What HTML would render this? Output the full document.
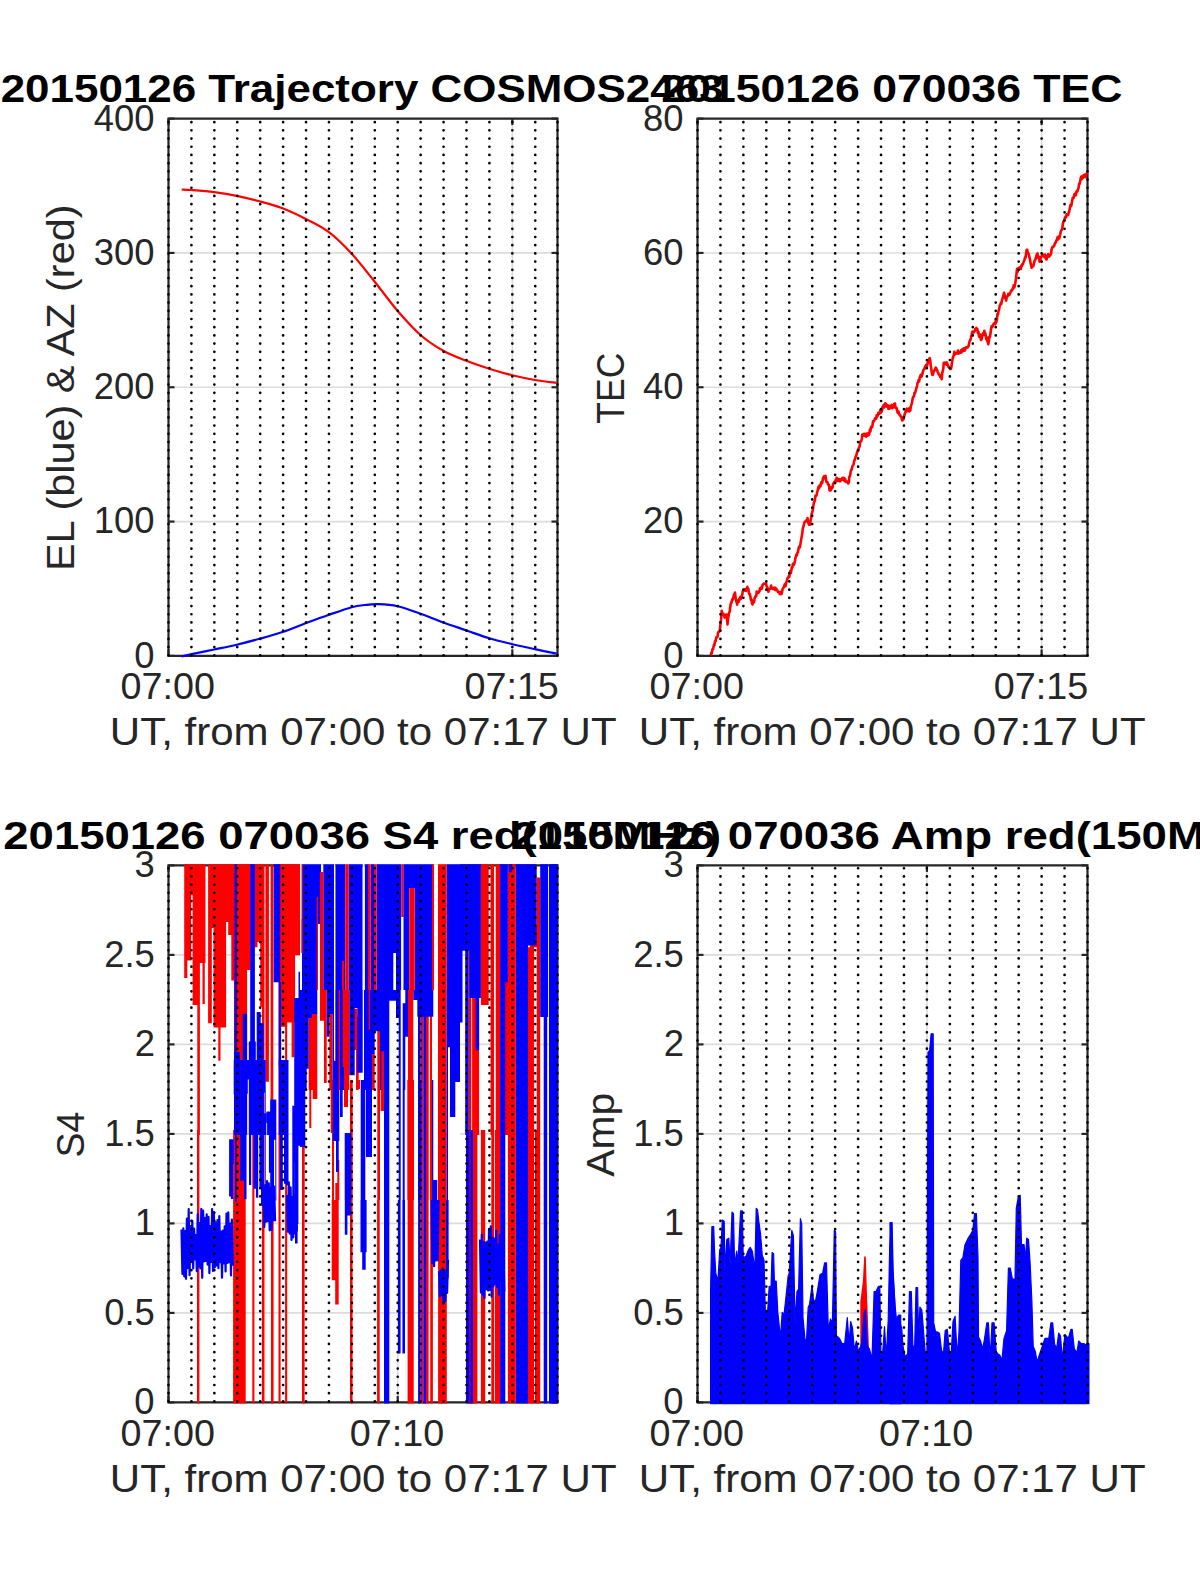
<!DOCTYPE html>
<html><head><meta charset="utf-8"><style>html,body{margin:0;padding:0;background:#fff;width:1200px;height:1575px;overflow:hidden}svg{display:block}</style></head>
<body><svg width="1200" height="1575" viewBox="0 0 1200 1575" font-family='"Liberation Sans", sans-serif'><line x1="168.5" y1="521.58" x2="557.5" y2="521.58" stroke="#dcdcdc" stroke-width="1.6"/>
<line x1="168.5" y1="387.25" x2="557.5" y2="387.25" stroke="#dcdcdc" stroke-width="1.6"/>
<line x1="168.5" y1="252.92" x2="557.5" y2="252.92" stroke="#dcdcdc" stroke-width="1.6"/>
<line x1="512.34" y1="118.6" x2="512.34" y2="655.9" stroke="#dcdcdc" stroke-width="1.6"/>
<path d="M168.5,118.6 H557.5 V655.9 H168.5 Z" fill="none" stroke="#262626" stroke-width="2.2"/>
<line x1="168.5" y1="655.90" x2="174.5" y2="655.90" stroke="#262626" stroke-width="2.2"/>
<line x1="557.5" y1="655.90" x2="551.5" y2="655.90" stroke="#262626" stroke-width="2.2"/>
<line x1="168.5" y1="521.58" x2="174.5" y2="521.58" stroke="#262626" stroke-width="2.2"/>
<line x1="557.5" y1="521.58" x2="551.5" y2="521.58" stroke="#262626" stroke-width="2.2"/>
<line x1="168.5" y1="387.25" x2="174.5" y2="387.25" stroke="#262626" stroke-width="2.2"/>
<line x1="557.5" y1="387.25" x2="551.5" y2="387.25" stroke="#262626" stroke-width="2.2"/>
<line x1="168.5" y1="252.92" x2="174.5" y2="252.92" stroke="#262626" stroke-width="2.2"/>
<line x1="557.5" y1="252.92" x2="551.5" y2="252.92" stroke="#262626" stroke-width="2.2"/>
<line x1="168.5" y1="118.60" x2="174.5" y2="118.60" stroke="#262626" stroke-width="2.2"/>
<line x1="557.5" y1="118.60" x2="551.5" y2="118.60" stroke="#262626" stroke-width="2.2"/>
<line x1="168.50" y1="655.9" x2="168.50" y2="649.4" stroke="#262626" stroke-width="2.2"/>
<line x1="168.50" y1="118.6" x2="168.50" y2="125.1" stroke="#262626" stroke-width="2.2"/>
<line x1="512.34" y1="655.9" x2="512.34" y2="649.4" stroke="#262626" stroke-width="2.2"/>
<line x1="512.34" y1="118.6" x2="512.34" y2="125.1" stroke="#262626" stroke-width="2.2"/>
<path d="M181.70,189.50 C183.30,189.58 185.88,189.55 191.30,190.00 C196.72,190.45 206.63,191.23 214.20,192.20 C221.77,193.17 229.15,194.28 236.70,195.80 C244.25,197.32 251.87,199.22 259.50,201.30 C267.13,203.38 274.87,205.40 282.50,208.30 C290.13,211.20 297.67,214.80 305.30,218.70 C312.93,222.60 320.63,225.93 328.30,231.70 C335.97,237.47 343.57,244.97 351.30,253.30 C359.03,261.63 367.00,272.12 374.70,281.70 C382.40,291.28 389.87,301.92 397.50,310.80 C405.13,319.68 412.87,328.33 420.50,335.00 C428.13,341.67 435.67,346.50 443.30,350.80 C450.93,355.10 458.65,357.82 466.30,360.80 C473.95,363.78 481.55,366.28 489.20,368.70 C496.85,371.12 504.57,373.42 512.20,375.30 C519.83,377.18 527.58,378.75 535.00,380.00 C542.42,381.25 553.08,382.33 556.70,382.80" fill="none" stroke="#f00" stroke-width="2.2"/><path d="M181.70,656.30 C183.37,655.95 186.28,655.33 191.70,654.20 C197.12,653.07 206.70,651.08 214.20,649.50 C221.70,647.92 229.15,646.48 236.70,644.70 C244.25,642.92 251.87,640.92 259.50,638.80 C267.13,636.68 274.83,634.58 282.50,632.00 C290.17,629.42 297.87,626.13 305.50,623.30 C313.13,620.47 320.60,617.68 328.30,615.00 C336.00,612.32 345.58,608.87 351.70,607.20 C357.82,605.53 360.62,605.50 365.00,605.00 C369.38,604.50 372.58,604.00 378.00,604.20 C383.42,604.40 390.42,604.60 397.50,606.20 C404.58,607.80 412.87,611.08 420.50,613.80 C428.13,616.52 435.60,619.72 443.30,622.50 C451.00,625.28 459.05,627.87 466.70,630.50 C474.35,633.13 481.57,636.02 489.20,638.30 C496.83,640.58 504.87,642.38 512.50,644.20 C520.13,646.02 527.63,647.62 535.00,649.20 C542.37,650.78 553.08,652.95 556.70,653.70" fill="none" stroke="#00f" stroke-width="2.2"/>
<line x1="168.50" y1="122.15" x2="168.50" y2="656.40" stroke="#000" stroke-width="2.7" stroke-linecap="round" stroke-dasharray="0 8.202"/>
<line x1="191.42" y1="122.15" x2="191.42" y2="656.40" stroke="#000" stroke-width="2.7" stroke-linecap="round" stroke-dasharray="0 8.202"/>
<line x1="214.35" y1="122.15" x2="214.35" y2="656.40" stroke="#000" stroke-width="2.7" stroke-linecap="round" stroke-dasharray="0 8.202"/>
<line x1="237.27" y1="122.15" x2="237.27" y2="656.40" stroke="#000" stroke-width="2.7" stroke-linecap="round" stroke-dasharray="0 8.202"/>
<line x1="260.19" y1="122.15" x2="260.19" y2="656.40" stroke="#000" stroke-width="2.7" stroke-linecap="round" stroke-dasharray="0 8.202"/>
<line x1="283.11" y1="122.15" x2="283.11" y2="656.40" stroke="#000" stroke-width="2.7" stroke-linecap="round" stroke-dasharray="0 8.202"/>
<line x1="306.04" y1="122.15" x2="306.04" y2="656.40" stroke="#000" stroke-width="2.7" stroke-linecap="round" stroke-dasharray="0 8.202"/>
<line x1="328.96" y1="122.15" x2="328.96" y2="656.40" stroke="#000" stroke-width="2.7" stroke-linecap="round" stroke-dasharray="0 8.202"/>
<line x1="351.88" y1="122.15" x2="351.88" y2="656.40" stroke="#000" stroke-width="2.7" stroke-linecap="round" stroke-dasharray="0 8.202"/>
<line x1="374.81" y1="122.15" x2="374.81" y2="656.40" stroke="#000" stroke-width="2.7" stroke-linecap="round" stroke-dasharray="0 8.202"/>
<line x1="397.73" y1="122.15" x2="397.73" y2="656.40" stroke="#000" stroke-width="2.7" stroke-linecap="round" stroke-dasharray="0 8.202"/>
<line x1="420.65" y1="122.15" x2="420.65" y2="656.40" stroke="#000" stroke-width="2.7" stroke-linecap="round" stroke-dasharray="0 8.202"/>
<line x1="443.57" y1="122.15" x2="443.57" y2="656.40" stroke="#000" stroke-width="2.7" stroke-linecap="round" stroke-dasharray="0 8.202"/>
<line x1="466.50" y1="122.15" x2="466.50" y2="656.40" stroke="#000" stroke-width="2.7" stroke-linecap="round" stroke-dasharray="0 8.202"/>
<line x1="489.42" y1="122.15" x2="489.42" y2="656.40" stroke="#000" stroke-width="2.7" stroke-linecap="round" stroke-dasharray="0 8.202"/>
<line x1="512.34" y1="122.15" x2="512.34" y2="656.40" stroke="#000" stroke-width="2.7" stroke-linecap="round" stroke-dasharray="0 8.202"/>
<line x1="535.26" y1="122.15" x2="535.26" y2="656.40" stroke="#000" stroke-width="2.7" stroke-linecap="round" stroke-dasharray="0 8.202"/>
<line x1="557.50" y1="122.15" x2="557.50" y2="656.40" stroke="#000" stroke-width="2.7" stroke-linecap="round" stroke-dasharray="0 8.202"/>
<text x="134.37" y="667.80" font-size="36.5" fill="#262626" textLength="20.25" lengthAdjust="spacingAndGlyphs">0</text>
<text x="93.86" y="533.48" font-size="36.5" fill="#262626" textLength="60.75" lengthAdjust="spacingAndGlyphs">100</text>
<text x="93.86" y="399.15" font-size="36.5" fill="#262626" textLength="60.75" lengthAdjust="spacingAndGlyphs">200</text>
<text x="93.86" y="264.82" font-size="36.5" fill="#262626" textLength="60.75" lengthAdjust="spacingAndGlyphs">300</text>
<text x="93.86" y="130.50" font-size="36.5" fill="#262626" textLength="60.75" lengthAdjust="spacingAndGlyphs">400</text>
<text x="120.53" y="699.20" font-size="36.5" fill="#262626" textLength="94.38" lengthAdjust="spacingAndGlyphs">07:00</text>
<text x="464.47" y="699.20" font-size="36.5" fill="#262626" textLength="94.38" lengthAdjust="spacingAndGlyphs">07:15</text>
<text x="109.85" y="745.20" font-size="38.4" fill="#262626" textLength="506.78" lengthAdjust="spacingAndGlyphs">UT, from 07:00 to 07:17 UT</text>
<text x="0.68" y="102.10" font-size="38.6" font-weight="bold" fill="#000" textLength="722.91" lengthAdjust="spacingAndGlyphs">20150126 Trajectory COSMOS2463</text>
<text x="-3.28" y="0" transform="translate(73.90,567.80) rotate(-90)" font-size="38.4" fill="#262626" textLength="366.55" lengthAdjust="spacingAndGlyphs">EL (blue) &amp; AZ (red)</text>
<line x1="697.5" y1="521.58" x2="1087.5" y2="521.58" stroke="#dcdcdc" stroke-width="1.6"/>
<line x1="697.5" y1="387.25" x2="1087.5" y2="387.25" stroke="#dcdcdc" stroke-width="1.6"/>
<line x1="697.5" y1="252.93" x2="1087.5" y2="252.93" stroke="#dcdcdc" stroke-width="1.6"/>
<line x1="1041.62" y1="118.6" x2="1041.62" y2="655.9" stroke="#dcdcdc" stroke-width="1.6"/>
<path d="M697.5,118.6 H1087.5 V655.9 H697.5 Z" fill="none" stroke="#262626" stroke-width="2.2"/>
<line x1="697.5" y1="655.90" x2="703.5" y2="655.90" stroke="#262626" stroke-width="2.2"/>
<line x1="1087.5" y1="655.90" x2="1081.5" y2="655.90" stroke="#262626" stroke-width="2.2"/>
<line x1="697.5" y1="521.58" x2="703.5" y2="521.58" stroke="#262626" stroke-width="2.2"/>
<line x1="1087.5" y1="521.58" x2="1081.5" y2="521.58" stroke="#262626" stroke-width="2.2"/>
<line x1="697.5" y1="387.25" x2="703.5" y2="387.25" stroke="#262626" stroke-width="2.2"/>
<line x1="1087.5" y1="387.25" x2="1081.5" y2="387.25" stroke="#262626" stroke-width="2.2"/>
<line x1="697.5" y1="252.93" x2="703.5" y2="252.93" stroke="#262626" stroke-width="2.2"/>
<line x1="1087.5" y1="252.93" x2="1081.5" y2="252.93" stroke="#262626" stroke-width="2.2"/>
<line x1="697.5" y1="118.60" x2="703.5" y2="118.60" stroke="#262626" stroke-width="2.2"/>
<line x1="1087.5" y1="118.60" x2="1081.5" y2="118.60" stroke="#262626" stroke-width="2.2"/>
<line x1="697.50" y1="655.9" x2="697.50" y2="649.4" stroke="#262626" stroke-width="2.2"/>
<line x1="697.50" y1="118.6" x2="697.50" y2="125.1" stroke="#262626" stroke-width="2.2"/>
<line x1="1041.62" y1="655.9" x2="1041.62" y2="649.4" stroke="#262626" stroke-width="2.2"/>
<line x1="1041.62" y1="118.6" x2="1041.62" y2="125.1" stroke="#262626" stroke-width="2.2"/>
<path d="M710.8,655.1 L711.3,652.8 L711.8,653.3 L712.4,649.4 L712.9,649.7 L713.4,647.5 L714.0,644.7 L714.5,644.9 L715.0,641.4 L715.5,641.5 L716.0,638.6 L716.5,637.2 L717.0,637.0 L717.5,637.1 L718.0,632.8 L718.5,631.7 L719.0,631.8 L719.5,631.6 L720.0,628.6 L720.6,622.6 L721.1,619.7 L721.7,610.7 L722.2,614.8 L722.7,613.3 L723.2,613.6 L723.7,614.3 L724.2,615.9 L724.7,617.6 L725.2,614.7 L725.7,616.0 L726.2,615.9 L726.7,614.5 L727.5,624.4 L728.0,619.1 L728.6,615.8 L729.1,613.0 L729.7,611.6 L730.2,607.2 L730.8,603.5 L731.3,603.1 L731.8,601.1 L732.4,599.0 L732.9,599.5 L733.4,597.7 L734.0,594.4 L734.5,594.3 L735.0,592.6 L735.6,597.6 L736.1,600.6 L736.7,602.5 L737.2,604.6 L737.7,600.5 L738.2,601.1 L738.8,601.8 L739.3,598.8 L739.8,599.5 L740.3,597.1 L740.8,599.0 L741.3,597.7 L741.8,595.3 L742.3,594.8 L742.8,590.9 L743.3,590.8 L743.8,590.2 L744.3,590.0 L744.8,589.3 L745.3,590.7 L745.8,590.9 L746.3,588.9 L746.8,589.5 L747.3,586.9 L747.8,589.3 L748.3,588.9 L748.8,592.5 L749.3,594.0 L749.9,594.0 L750.4,596.6 L750.9,599.9 L751.5,599.5 L752.0,603.5 L752.5,604.5 L753.0,602.7 L753.5,600.9 L754.1,602.2 L754.6,598.1 L755.1,597.0 L755.7,596.0 L756.2,596.3 L756.7,591.6 L757.2,592.4 L757.8,592.1 L758.4,592.8 L758.9,591.8 L759.5,591.3 L760.0,588.3 L760.5,588.3 L761.0,587.5 L761.5,589.0 L762.0,588.7 L762.5,584.9 L763.0,584.4 L763.5,584.0 L764.0,583.4 L764.5,583.8 L765.0,583.7 L765.5,583.5 L766.1,583.5 L766.6,586.3 L767.2,587.2 L767.8,589.1 L768.3,591.8 L768.9,590.2 L769.4,589.0 L770.0,588.8 L770.6,588.5 L771.1,585.5 L771.7,588.3 L772.2,588.2 L772.7,589.0 L773.2,589.1 L773.7,587.9 L774.2,588.3 L774.7,587.6 L775.2,590.1 L775.7,588.2 L776.2,588.7 L776.7,589.6 L777.2,590.3 L777.8,591.8 L778.4,591.5 L778.9,592.1 L779.5,593.6 L780.0,594.2 L780.5,594.2 L781.0,591.7 L781.6,594.0 L782.1,591.9 L782.6,588.9 L783.1,588.2 L783.6,587.5 L784.1,586.5 L784.7,584.4 L785.2,586.3 L785.7,585.7 L786.2,582.5 L786.7,581.5 L787.3,578.8 L787.8,577.8 L788.3,577.7 L788.8,576.0 L789.3,576.8 L789.8,572.7 L790.4,570.8 L790.9,573.1 L791.4,570.0 L791.9,567.0 L792.4,567.2 L792.9,563.7 L793.5,564.3 L794.0,564.7 L794.5,562.9 L795.0,560.8 L795.5,557.5 L796.0,556.5 L796.5,554.2 L797.0,555.1 L797.5,552.6 L798.0,552.1 L798.5,548.8 L799.0,546.9 L799.5,547.7 L800.0,546.9 L800.5,543.4 L801.1,540.1 L801.6,537.1 L802.2,533.8 L802.8,528.7 L803.3,526.8 L803.8,525.1 L804.3,522.7 L804.9,521.7 L805.4,521.6 L805.9,520.5 L806.5,521.2 L807.0,521.2 L807.5,518.1 L808.0,521.5 L808.5,523.3 L809.0,524.6 L809.5,523.8 L810.0,524.7 L810.5,521.2 L811.1,517.7 L811.6,514.2 L812.2,512.4 L812.8,510.1 L813.3,506.4 L813.8,503.0 L814.3,501.9 L814.9,500.6 L815.4,495.8 L815.9,496.3 L816.5,495.4 L817.0,493.0 L817.5,491.0 L818.0,489.0 L818.5,486.8 L819.0,488.3 L819.5,485.5 L820.0,486.5 L820.5,486.2 L821.0,483.0 L821.5,482.0 L822.0,483.3 L822.5,481.4 L823.0,478.3 L823.5,477.1 L824.0,476.3 L824.5,478.4 L825.0,477.0 L825.5,475.8 L826.0,479.9 L826.5,482.0 L827.0,482.1 L827.5,482.3 L828.0,484.5 L828.5,484.3 L829.0,485.2 L829.5,490.5 L830.0,490.6 L830.5,489.3 L831.0,490.1 L831.5,487.2 L832.1,488.2 L832.6,487.2 L833.1,483.9 L833.6,483.2 L834.1,482.5 L834.6,481.5 L835.2,482.0 L835.7,479.9 L836.2,479.7 L836.7,477.7 L837.2,480.9 L837.7,478.7 L838.3,479.2 L838.8,479.7 L839.3,481.1 L839.8,479.2 L840.3,481.2 L840.9,479.6 L841.4,479.8 L841.9,479.8 L842.4,477.8 L842.9,479.6 L843.4,478.6 L844.0,477.9 L844.5,481.1 L845.0,478.7 L845.5,480.4 L846.1,482.0 L846.6,481.9 L847.2,481.5 L847.8,482.8 L848.3,483.5 L848.9,481.9 L849.4,476.7 L850.0,476.0 L850.6,472.3 L851.1,469.9 L851.7,469.4 L852.2,466.9 L852.7,465.6 L853.2,464.9 L853.7,464.1 L854.2,460.7 L854.7,460.0 L855.2,458.1 L855.7,456.6 L856.2,455.9 L856.7,453.4 L857.2,452.3 L857.7,450.6 L858.2,450.8 L858.7,448.2 L859.2,447.3 L859.7,445.9 L860.3,441.6 L860.8,441.1 L861.3,441.0 L861.8,439.0 L862.3,434.5 L862.8,434.4 L863.3,435.6 L863.8,434.0 L864.3,434.5 L864.8,433.8 L865.3,436.0 L865.8,436.4 L866.3,436.7 L866.8,433.6 L867.3,435.8 L867.8,435.4 L868.3,433.3 L868.8,434.9 L869.3,433.9 L869.9,429.6 L870.4,431.2 L870.9,427.6 L871.4,426.6 L872.0,427.3 L872.5,425.4 L873.0,421.3 L873.5,421.6 L874.1,421.2 L874.6,419.7 L875.1,418.3 L875.6,418.0 L876.2,418.8 L876.7,415.2 L877.2,416.5 L877.8,415.3 L878.3,412.8 L878.8,413.3 L879.4,413.7 L879.9,412.5 L880.4,409.9 L880.9,412.8 L881.5,411.3 L882.0,411.2 L882.5,407.0 L883.1,406.9 L883.6,405.2 L884.1,407.4 L884.6,404.6 L885.2,403.3 L885.7,403.7 L886.2,406.3 L886.8,406.6 L887.4,405.0 L887.9,405.3 L888.5,409.0 L889.0,408.3 L889.5,408.6 L890.0,405.9 L890.5,405.6 L891.0,407.9 L891.5,406.6 L892.0,404.9 L892.5,408.2 L893.0,406.7 L893.5,407.2 L894.0,404.1 L894.5,406.9 L895.0,403.6 L895.5,407.9 L896.0,407.4 L896.6,408.1 L897.1,410.1 L897.6,412.7 L898.1,411.2 L898.6,411.8 L899.2,414.6 L899.7,414.5 L900.2,415.2 L900.7,416.5 L901.3,417.2 L901.8,419.0 L902.3,420.5 L902.8,419.2 L903.3,419.7 L903.8,416.5 L904.3,416.0 L904.8,413.4 L905.3,412.7 L905.8,410.1 L906.3,409.7 L906.8,408.6 L907.3,411.3 L907.8,410.4 L908.3,408.8 L908.8,409.7 L909.3,411.4 L909.8,407.9 L910.3,410.6 L910.8,406.6 L911.4,404.5 L911.9,403.4 L912.5,399.3 L913.0,397.3 L913.5,396.7 L914.0,396.6 L914.5,392.7 L915.0,393.3 L915.5,391.5 L916.0,389.9 L916.5,387.6 L917.0,386.1 L917.5,383.3 L918.1,382.0 L918.6,380.2 L919.2,381.3 L919.7,377.7 L920.2,376.3 L920.8,374.9 L921.3,376.9 L921.8,375.9 L922.4,374.0 L922.9,371.4 L923.4,370.2 L923.9,369.3 L924.5,368.9 L925.0,366.6 L925.5,366.7 L926.0,365.0 L926.6,366.7 L927.1,365.8 L927.6,363.0 L928.1,360.8 L928.7,362.6 L929.2,359.0 L929.7,358.1 L930.2,360.2 L930.7,365.1 L931.3,369.0 L931.8,372.6 L932.3,374.8 L932.9,374.9 L933.4,371.8 L934.0,371.7 L934.6,369.9 L935.1,370.0 L935.7,367.5 L936.2,368.1 L936.7,369.9 L937.2,370.2 L937.7,372.3 L938.2,372.8 L938.7,374.3 L939.2,374.6 L939.7,375.5 L940.2,376.8 L940.7,375.5 L941.2,375.9 L941.7,379.2 L942.2,372.7 L942.7,371.8 L943.3,368.3 L943.8,362.7 L944.3,362.6 L944.8,363.4 L945.3,362.8 L945.8,363.8 L946.4,364.6 L946.9,362.4 L947.4,364.5 L947.9,364.9 L948.4,366.8 L948.9,367.2 L949.5,367.8 L950.0,367.3 L950.5,369.1 L951.0,368.7 L951.5,366.3 L952.1,362.0 L952.6,358.8 L953.2,356.7 L953.8,355.2 L954.3,351.7 L954.8,354.5 L955.3,353.3 L955.8,353.5 L956.4,353.4 L956.9,353.5 L957.4,352.7 L957.9,350.6 L958.4,353.7 L958.9,353.4 L959.5,352.3 L960.0,352.3 L960.5,352.7 L961.0,350.3 L961.5,352.5 L962.0,350.2 L962.5,349.0 L963.0,349.4 L963.5,350.8 L964.0,348.3 L964.5,350.0 L965.0,350.6 L965.5,348.2 L966.0,347.3 L966.5,347.3 L967.0,347.7 L967.5,347.6 L968.0,346.6 L968.5,346.3 L969.0,343.6 L969.5,341.8 L970.1,340.1 L970.6,339.9 L971.2,336.0 L971.7,335.0 L972.2,332.0 L972.7,331.5 L973.2,331.5 L973.7,332.4 L974.3,331.7 L974.8,330.9 L975.3,328.7 L975.8,328.8 L976.3,327.9 L976.8,329.1 L977.3,328.9 L977.9,333.1 L978.4,331.6 L978.9,335.9 L979.4,336.9 L980.0,334.4 L980.5,337.3 L981.0,340.0 L981.5,339.5 L982.1,336.3 L982.6,334.4 L983.2,333.1 L983.8,334.9 L984.3,330.8 L984.8,333.7 L985.3,333.2 L985.8,336.1 L986.3,339.2 L986.8,337.2 L987.3,341.3 L987.8,341.4 L988.3,344.2 L988.9,341.1 L989.4,336.7 L990.0,336.9 L990.6,332.8 L991.1,328.5 L991.7,326.0 L992.2,327.2 L992.7,326.3 L993.2,325.0 L993.7,323.6 L994.3,323.7 L994.8,322.8 L995.3,324.1 L995.8,320.1 L996.3,322.3 L996.9,319.8 L997.5,314.0 L998.0,314.3 L998.6,310.6 L999.1,309.8 L999.7,305.8 L1000.2,304.7 L1000.8,303.2 L1001.3,304.1 L1001.8,301.0 L1002.4,298.6 L1002.9,297.3 L1003.5,295.2 L1004.0,292.8 L1004.5,294.1 L1005.1,298.1 L1005.7,297.0 L1006.2,300.7 L1006.7,297.0 L1007.3,296.1 L1007.8,296.1 L1008.4,293.8 L1008.9,293.6 L1009.4,294.9 L1010.0,293.7 L1010.5,292.4 L1011.1,290.7 L1011.6,290.9 L1012.1,290.4 L1012.7,288.3 L1013.2,288.5 L1013.7,285.3 L1014.3,287.5 L1014.8,285.8 L1015.3,283.2 L1015.9,279.0 L1016.5,273.8 L1017.0,269.1 L1017.5,272.1 L1018.1,268.3 L1018.6,269.2 L1019.1,268.1 L1019.7,267.4 L1020.2,268.6 L1020.8,269.0 L1021.3,265.6 L1021.8,266.3 L1022.4,264.0 L1022.9,264.1 L1023.4,262.6 L1024.0,260.8 L1024.5,259.8 L1025.0,257.4 L1025.6,257.6 L1026.1,253.4 L1026.7,249.7 L1027.2,249.8 L1027.8,252.7 L1028.3,253.1 L1028.8,254.4 L1029.4,257.2 L1030.0,259.4 L1030.5,262.9 L1031.0,264.5 L1031.6,267.7 L1032.1,266.4 L1032.7,266.3 L1033.2,266.3 L1033.7,264.4 L1034.3,261.8 L1034.8,260.4 L1035.4,259.6 L1035.9,257.7 L1036.4,256.2 L1037.0,253.8 L1037.5,253.3 L1038.0,257.8 L1038.5,256.2 L1039.1,259.5 L1039.6,261.7 L1040.1,261.6 L1040.7,257.9 L1041.2,257.0 L1041.8,255.9 L1042.3,255.4 L1042.9,254.5 L1043.4,255.4 L1043.9,256.0 L1044.5,257.1 L1045.0,254.6 L1045.6,255.6 L1046.1,259.3 L1046.6,259.5 L1047.2,257.2 L1047.7,257.0 L1048.2,254.1 L1048.8,255.0 L1049.3,256.5 L1049.9,255.5 L1050.4,255.0 L1051.0,254.1 L1051.5,249.9 L1052.0,248.0 L1052.6,246.8 L1053.2,246.9 L1053.7,246.2 L1054.2,245.9 L1054.8,243.7 L1055.3,242.6 L1055.9,242.4 L1056.4,240.4 L1057.0,240.0 L1057.5,237.2 L1058.0,239.4 L1058.6,236.5 L1059.1,238.5 L1059.7,236.6 L1060.2,234.5 L1060.7,231.8 L1061.3,230.3 L1061.8,229.8 L1062.3,228.0 L1062.9,223.6 L1063.4,221.4 L1064.0,221.2 L1064.5,219.4 L1065.0,217.9 L1065.6,216.6 L1066.1,217.4 L1066.6,214.3 L1067.2,214.7 L1067.7,214.6 L1068.2,215.1 L1068.7,212.4 L1069.2,211.8 L1069.7,208.7 L1070.2,206.2 L1070.7,204.8 L1071.2,206.1 L1071.7,203.6 L1072.2,200.5 L1072.7,197.9 L1073.2,198.3 L1073.7,197.5 L1074.2,195.0 L1074.7,193.8 L1075.3,194.9 L1075.8,195.4 L1076.3,192.1 L1076.9,190.8 L1077.4,191.5 L1078.0,189.4 L1078.5,188.2 L1079.1,183.9 L1079.6,184.0 L1080.2,181.4 L1080.7,178.1 L1081.2,176.6 L1081.8,179.3 L1082.3,176.4 L1082.8,178.1 L1083.4,175.4 L1083.9,175.1 L1084.4,176.9 L1085.0,174.7 L1085.5,177.1 L1086.0,174.9 L1086.6,173.4 L1087.1,174.3" fill="none" stroke="#f00" stroke-width="2.6" stroke-linejoin="round"/>
<line x1="697.50" y1="122.15" x2="697.50" y2="656.40" stroke="#000" stroke-width="2.7" stroke-linecap="round" stroke-dasharray="0 8.202"/>
<line x1="720.44" y1="122.15" x2="720.44" y2="656.40" stroke="#000" stroke-width="2.7" stroke-linecap="round" stroke-dasharray="0 8.202"/>
<line x1="743.38" y1="122.15" x2="743.38" y2="656.40" stroke="#000" stroke-width="2.7" stroke-linecap="round" stroke-dasharray="0 8.202"/>
<line x1="766.32" y1="122.15" x2="766.32" y2="656.40" stroke="#000" stroke-width="2.7" stroke-linecap="round" stroke-dasharray="0 8.202"/>
<line x1="789.26" y1="122.15" x2="789.26" y2="656.40" stroke="#000" stroke-width="2.7" stroke-linecap="round" stroke-dasharray="0 8.202"/>
<line x1="812.21" y1="122.15" x2="812.21" y2="656.40" stroke="#000" stroke-width="2.7" stroke-linecap="round" stroke-dasharray="0 8.202"/>
<line x1="835.15" y1="122.15" x2="835.15" y2="656.40" stroke="#000" stroke-width="2.7" stroke-linecap="round" stroke-dasharray="0 8.202"/>
<line x1="858.09" y1="122.15" x2="858.09" y2="656.40" stroke="#000" stroke-width="2.7" stroke-linecap="round" stroke-dasharray="0 8.202"/>
<line x1="881.03" y1="122.15" x2="881.03" y2="656.40" stroke="#000" stroke-width="2.7" stroke-linecap="round" stroke-dasharray="0 8.202"/>
<line x1="903.97" y1="122.15" x2="903.97" y2="656.40" stroke="#000" stroke-width="2.7" stroke-linecap="round" stroke-dasharray="0 8.202"/>
<line x1="926.91" y1="122.15" x2="926.91" y2="656.40" stroke="#000" stroke-width="2.7" stroke-linecap="round" stroke-dasharray="0 8.202"/>
<line x1="949.85" y1="122.15" x2="949.85" y2="656.40" stroke="#000" stroke-width="2.7" stroke-linecap="round" stroke-dasharray="0 8.202"/>
<line x1="972.79" y1="122.15" x2="972.79" y2="656.40" stroke="#000" stroke-width="2.7" stroke-linecap="round" stroke-dasharray="0 8.202"/>
<line x1="995.74" y1="122.15" x2="995.74" y2="656.40" stroke="#000" stroke-width="2.7" stroke-linecap="round" stroke-dasharray="0 8.202"/>
<line x1="1018.68" y1="122.15" x2="1018.68" y2="656.40" stroke="#000" stroke-width="2.7" stroke-linecap="round" stroke-dasharray="0 8.202"/>
<line x1="1041.62" y1="122.15" x2="1041.62" y2="656.40" stroke="#000" stroke-width="2.7" stroke-linecap="round" stroke-dasharray="0 8.202"/>
<line x1="1064.56" y1="122.15" x2="1064.56" y2="656.40" stroke="#000" stroke-width="2.7" stroke-linecap="round" stroke-dasharray="0 8.202"/>
<line x1="1087.50" y1="122.15" x2="1087.50" y2="656.40" stroke="#000" stroke-width="2.7" stroke-linecap="round" stroke-dasharray="0 8.202"/>
<text x="663.37" y="667.80" font-size="36.5" fill="#262626" textLength="20.25" lengthAdjust="spacingAndGlyphs">0</text>
<text x="643.11" y="533.48" font-size="36.5" fill="#262626" textLength="40.50" lengthAdjust="spacingAndGlyphs">20</text>
<text x="643.11" y="399.15" font-size="36.5" fill="#262626" textLength="40.50" lengthAdjust="spacingAndGlyphs">40</text>
<text x="643.11" y="264.82" font-size="36.5" fill="#262626" textLength="40.50" lengthAdjust="spacingAndGlyphs">60</text>
<text x="643.11" y="130.50" font-size="36.5" fill="#262626" textLength="40.50" lengthAdjust="spacingAndGlyphs">80</text>
<text x="649.53" y="699.20" font-size="36.5" fill="#262626" textLength="94.38" lengthAdjust="spacingAndGlyphs">07:00</text>
<text x="993.74" y="699.20" font-size="36.5" fill="#262626" textLength="94.38" lengthAdjust="spacingAndGlyphs">07:15</text>
<text x="638.85" y="745.20" font-size="38.4" fill="#262626" textLength="506.78" lengthAdjust="spacingAndGlyphs">UT, from 07:00 to 07:17 UT</text>
<text x="661.36" y="102.10" font-size="38.6" font-weight="bold" fill="#000" textLength="461.15" lengthAdjust="spacingAndGlyphs">20150126 070036 TEC</text>
<text x="-0.71" y="0" transform="translate(623.80,423.00) rotate(-90)" font-size="38.4" fill="#262626" textLength="71.03" lengthAdjust="spacingAndGlyphs">TEC</text>
<line x1="168.5" y1="1312.90" x2="557.5" y2="1312.90" stroke="#dcdcdc" stroke-width="1.6"/>
<line x1="168.5" y1="1223.40" x2="557.5" y2="1223.40" stroke="#dcdcdc" stroke-width="1.6"/>
<line x1="168.5" y1="1133.90" x2="557.5" y2="1133.90" stroke="#dcdcdc" stroke-width="1.6"/>
<line x1="168.5" y1="1044.40" x2="557.5" y2="1044.40" stroke="#dcdcdc" stroke-width="1.6"/>
<line x1="168.5" y1="954.90" x2="557.5" y2="954.90" stroke="#dcdcdc" stroke-width="1.6"/>
<line x1="397.73" y1="865.4" x2="397.73" y2="1402.4" stroke="#dcdcdc" stroke-width="1.6"/>
<path d="M168.5,865.4 H557.5 V1402.4 H168.5 Z" fill="none" stroke="#262626" stroke-width="2.2"/>
<line x1="168.5" y1="1402.40" x2="174.5" y2="1402.40" stroke="#262626" stroke-width="2.2"/>
<line x1="557.5" y1="1402.40" x2="551.5" y2="1402.40" stroke="#262626" stroke-width="2.2"/>
<line x1="168.5" y1="1312.90" x2="174.5" y2="1312.90" stroke="#262626" stroke-width="2.2"/>
<line x1="557.5" y1="1312.90" x2="551.5" y2="1312.90" stroke="#262626" stroke-width="2.2"/>
<line x1="168.5" y1="1223.40" x2="174.5" y2="1223.40" stroke="#262626" stroke-width="2.2"/>
<line x1="557.5" y1="1223.40" x2="551.5" y2="1223.40" stroke="#262626" stroke-width="2.2"/>
<line x1="168.5" y1="1133.90" x2="174.5" y2="1133.90" stroke="#262626" stroke-width="2.2"/>
<line x1="557.5" y1="1133.90" x2="551.5" y2="1133.90" stroke="#262626" stroke-width="2.2"/>
<line x1="168.5" y1="1044.40" x2="174.5" y2="1044.40" stroke="#262626" stroke-width="2.2"/>
<line x1="557.5" y1="1044.40" x2="551.5" y2="1044.40" stroke="#262626" stroke-width="2.2"/>
<line x1="168.5" y1="954.90" x2="174.5" y2="954.90" stroke="#262626" stroke-width="2.2"/>
<line x1="557.5" y1="954.90" x2="551.5" y2="954.90" stroke="#262626" stroke-width="2.2"/>
<line x1="168.5" y1="865.40" x2="174.5" y2="865.40" stroke="#262626" stroke-width="2.2"/>
<line x1="557.5" y1="865.40" x2="551.5" y2="865.40" stroke="#262626" stroke-width="2.2"/>
<line x1="168.50" y1="1402.4" x2="168.50" y2="1395.9" stroke="#262626" stroke-width="2.2"/>
<line x1="168.50" y1="865.4" x2="168.50" y2="871.9" stroke="#262626" stroke-width="2.2"/>
<line x1="397.73" y1="1402.4" x2="397.73" y2="1395.9" stroke="#262626" stroke-width="2.2"/>
<line x1="397.73" y1="865.4" x2="397.73" y2="871.9" stroke="#262626" stroke-width="2.2"/>
<path d="M184.2,864.2H187.3V977.9H184.2ZM187.3,864.2H191.2V960.4H187.3ZM191.2,864.2H192.9V894.9H191.2ZM192.6,864.2H197.3V1004.9H192.6ZM197.3,864.2H199.9V1135.0H197.3ZM199.9,864.2H205.5V963.0H199.9ZM202.5,963.0H204.8V1004.0H202.5ZM208.1,864.2H211.8V1023.3H208.1ZM211.8,864.2H213.5V928.1H211.8ZM213.5,864.2H226.1V1027.6H213.5ZM218.3,1027.6H220.5V1060.8H218.3ZM226.1,864.2H228.2V922.0H226.1ZM228.2,864.2H231.3V935.1H228.2ZM231.3,864.2H234.0V980.5H231.3ZM234.0,864.2H247.1V1135.0H234.0ZM247.1,864.2H250.6V970.0H247.1ZM253.2,864.2H257.5V947.3H253.2ZM255.8,864.2H260.2V942.1H255.8ZM260.2,864.2H263.7V1006.7H260.2ZM261.9,864.2H264.5V1135.0H261.9ZM265.4,864.2H268.9V1081.7H265.4ZM270.6,864.2H273.3V1135.0H270.6ZM278.5,864.2H281.1V1135.0H278.5ZM280.2,864.2H287.2V1026.7H280.2ZM285.1,864.2H287.2V1135.0H285.1ZM287.2,864.2H295.1V1022.4H287.2ZM291.6,1022.4H294.2V1057.3H291.6ZM295.1,864.2H300.0V954.3H295.1ZM197.0,1130.0H199.4V1403.6H197.0ZM233.1,1130.0H245.7V1403.6H233.1ZM252.3,1130.0H254.4V1403.6H252.3ZM261.9,1130.0H264.5V1403.6H261.9ZM271.0,1130.0H273.6V1403.6H271.0ZM278.5,1130.0H280.6V1403.6H278.5ZM285.1,1130.0H287.2V1403.6H285.1ZM295.0,864.2H301.1V955.2H295.0ZM309.8,1013.7H317.7V1097.5H309.8ZM309.8,1017.1H312.5V1127.1H309.8ZM319.4,870.5H322.9V1020.6H319.4ZM323.8,987.5H327.3V1083.5H323.8ZM329.9,1013.7H332.5V1132.4H329.9ZM342.1,961.3H343.9V1067.8H342.1ZM345.6,864.2H348.3V1104.4H345.6ZM350.0,1034.6H352.6V1135.0H350.0ZM353.5,1008.4H360.5V1088.7H353.5ZM368.3,864.2H371.0V1029.4H368.3ZM371.8,1034.6H373.6V1065.2H371.8ZM374.4,864.2H377.1V1034.6H374.4ZM378.8,1011.9H383.2V1109.7H378.8ZM390.2,992.7H392.8V999.7H390.2ZM401.5,864.2H404.1V917.6H401.5ZM408.5,864.2H414.6V1135.0H408.5ZM418.1,940.3H419.8V1135.0H418.1ZM421.6,940.3H424.2V1135.0H421.6ZM426.0,999.7H428.6V1135.0H426.0ZM302.0,1130.0H304.6V1403.6H302.0ZM331.7,1130.0H335.2V1280.2H331.7ZM335.2,1130.0H338.7V1304.6H335.2ZM350.0,1130.0H352.6V1403.6H350.0ZM362.2,1151.0H365.7V1208.6H362.2ZM377.1,1130.0H379.7V1403.6H377.1ZM407.6,1130.0H413.7V1403.6H407.6ZM420.7,1130.0H423.3V1403.6H420.7ZM426.0,1130.0H428.6V1403.6H426.0ZM425.0,999.7H428.5V1135.0H425.0ZM431.1,999.7H433.7V1135.0H431.1ZM428.5,864.2H433.7V1024.1H428.5ZM438.1,864.2H446.8V1135.0H438.1ZM468.7,864.2H471.3V1135.0H468.7ZM472.1,982.2H479.1V1135.0H472.1ZM480.9,864.2H488.7V1004.9H480.9ZM490.5,864.2H494.0V1135.0H490.5ZM495.7,864.2H500.1V1135.0H495.7ZM504.4,975.2H507.9V1135.0H504.4ZM507.9,864.2H515.8V1135.0H507.9ZM528.0,947.3H534.1V1135.0H528.0ZM536.7,877.5H540.2V1135.0H536.7ZM529.8,926.3H536.7V947.3H529.8ZM425.0,1130.0H428.5V1403.6H425.0ZM430.2,1130.0H432.9V1403.6H430.2ZM438.1,1130.0H446.8V1403.6H438.1ZM468.7,1130.0H471.3V1403.6H468.7ZM473.0,1130.0H477.4V1403.6H473.0ZM480.9,1130.0H485.2V1403.6H480.9ZM491.3,1130.0H494.0V1403.6H491.3ZM494.8,1130.0H500.1V1403.6H494.8ZM507.9,1130.0H515.8V1403.6H507.9ZM528.0,1130.0H534.1V1403.6H528.0ZM535.0,1130.0H540.2V1403.6H535.0ZM552.5,1130.0H554.2V1403.6H552.5Z" fill="#ff0000"/><path d="M234.5,864.2H236.9V1135.0H234.5ZM234.0,1052.1H240.1V1135.0H234.0ZM242.7,1013.7H247.1V1135.0H242.7ZM250.2,864.2H254.9V1135.0H250.2ZM248.8,1041.6H255.8V1135.0H248.8ZM256.7,1011.9H260.7V1135.0H256.7ZM260.7,1023.3H263.7V1135.0H260.7ZM263.7,1113.2H266.3V1135.0H263.7ZM267.1,1111.4H269.8V1135.0H267.1ZM271.2,1101.0H274.1V1135.0H271.2ZM273.6,864.2H280.2V982.2H273.6ZM278.8,982.2H281.1V1135.0H278.8ZM281.1,1060.8H288.1V1135.0H281.1ZM294.2,997.9H300.0V1135.0H294.2ZM229.1,1139.2H230.9V1196.4H229.1ZM230.9,1139.2H233.1V1199.0H230.9ZM233.1,1139.2H233.7V1164.3H233.1ZM233.7,1060.0H235.0V1094.5H233.7ZM235.0,1060.0H236.8V1201.8H235.0ZM236.8,1060.0H238.2V1104.9H236.8ZM238.2,1060.0H239.3V1093.4H238.2ZM239.3,1060.0H240.2V1063.9H239.3ZM240.2,1060.0H241.9V1180.8H240.2ZM241.9,1060.0H242.0V1181.4H241.9ZM242.0,1060.0H244.0V1180.6H242.0ZM244.0,1060.0H246.5V1199.3H244.0ZM246.5,1060.0H247.8V1093.8H246.5ZM247.8,1060.0H249.0V1079.5H247.8ZM249.0,1060.0H251.2V1185.1H249.0ZM251.2,1060.0H254.2V1082.9H251.2ZM253.5,1060.0H255.9V1188.8H253.5ZM255.9,1060.0H258.2V1197.8H255.9ZM258.2,1060.0H259.4V1094.8H258.2ZM259.4,1060.0H261.0V1188.5H259.4ZM261.0,1060.0H263.9V1205.7H261.0ZM263.9,1060.0H264.8V1092.7H263.9ZM264.8,1060.0H265.7V1196.5H264.8ZM266.4,1111.8H267.6V1123.0H266.4ZM267.6,1111.8H268.9V1119.1H267.6ZM268.9,1111.8H270.2V1172.7H268.9ZM270.2,1099.6H272.3V1189.6H270.2ZM272.3,1099.6H274.0V1199.4H272.3ZM274.0,1099.6H275.3V1139.7H274.0ZM275.3,1099.6H276.3V1200.5H275.3ZM278.6,1060.0H279.9V1066.6H278.6ZM279.9,1060.0H282.8V1189.9H279.9ZM282.8,1060.0H284.0V1072.2H282.8ZM284.0,1060.0H286.0V1183.8H284.0ZM286.0,1060.0H288.5V1185.2H286.0ZM292.3,1105.7H294.9V1224.2H292.3ZM294.9,1105.7H296.8V1162.3H294.9ZM296.8,1105.7H298.4V1224.1H296.8ZM296.9,1060.0H298.2V1066.6H296.9ZM298.2,1060.0H299.2V1096.7H298.2ZM299.2,1060.0H300.6V1063.8H299.2ZM300.6,1060.0H302.5V1134.1H300.6ZM302.5,1060.0H305.0V1127.2H302.5ZM302.0,864.2H322.9V922.9H302.0ZM302.0,922.9H316.8V1017.1H302.0ZM298.5,971.7H305.5V1135.0H298.5ZM305.5,864.2H309.8V1069.5H305.5ZM322.9,864.2H347.4V1017.1H322.9ZM326.4,1017.1H329.9V1038.1H326.4ZM334.3,1017.1H337.8V1135.0H334.3ZM339.5,1017.1H343.0V1116.7H339.5ZM345.6,1034.6H349.1V1135.0H345.6ZM347.4,864.2H364.0V1008.4H347.4ZM350.9,1008.4H353.5V1076.5H350.9ZM357.9,1008.4H361.3V1073.0H357.9ZM361.3,1008.4H364.0V1135.0H361.3ZM364.8,864.2H366.9V1135.0H364.8ZM366.9,864.2H375.3V1053.8H366.9ZM375.3,864.2H390.2V1034.6H375.3ZM384.0,1034.6H389.3V1135.0H384.0ZM390.2,864.2H399.8V982.2H390.2ZM396.3,982.2H399.8V1017.1H396.3ZM398.0,1017.1H400.6V1135.0H398.0ZM403.3,864.2H409.4V1004.9H403.3ZM405.9,1004.9H409.4V1036.3H405.9ZM413.7,864.2H430.0V940.3H413.7ZM415.5,940.3H430.0V999.7H415.5ZM427.7,999.7H430.0V1013.7H427.7ZM295.0,1130.0H297.6V1243.5H295.0ZM297.6,1130.0H302.0V1145.7H297.6ZM332.5,1130.0H336.0V1140.5H332.5ZM336.0,1130.0H338.7V1171.9H336.0ZM343.9,1130.0H350.9V1187.6H343.9ZM344.8,1187.6H347.4V1234.8H344.8ZM347.4,1187.6H350.9V1215.6H347.4ZM360.5,1130.0H366.6V1252.2H360.5ZM362.2,1252.2H365.7V1269.7H362.2ZM365.7,1130.0H371.8V1156.2H365.7ZM384.0,1130.0H389.3V1403.6H384.0ZM398.0,1130.0H400.6V1353.5H398.0ZM402.4,1130.0H405.0V1353.5H402.4ZM418.1,1130.0H420.7V1403.6H418.1ZM423.3,1130.0H426.0V1403.6H423.3ZM425.0,864.2H432.0V1013.7H425.0ZM446.8,864.2H462.5V1022.4H446.8ZM447.7,1022.4H459.0V1083.5H447.7ZM449.4,1083.5H452.9V1116.7H449.4ZM462.5,864.2H469.5V950.8H462.5ZM465.2,864.2H468.7V1135.0H465.2ZM469.5,864.2H480.9V997.9H469.5ZM475.6,997.9H479.1V1050.3H475.6ZM500.1,864.2H505.3V1135.0H500.1ZM505.3,864.2H507.9V982.2H505.3ZM508.8,864.2H512.3V872.2H508.8ZM515.8,864.2H528.0V1135.0H515.8ZM528.0,864.2H536.7V945.6H528.0ZM540.2,864.2H548.1V1017.1H540.2ZM543.7,1017.1H547.2V1135.0H543.7ZM549.0,864.2H557.7V1135.0H549.0ZM446.0,1130.0H448.6V1278.4H446.0ZM466.0,1130.0H469.5V1403.6H466.0ZM470.4,1130.0H473.0V1403.6H470.4ZM500.1,1130.0H505.3V1403.6H500.1ZM515.8,1130.0H528.0V1403.6H515.8ZM543.7,1130.0H547.2V1403.6H543.7ZM549.0,1130.0H557.7V1403.6H549.0Z" fill="#0000ff"/><path d="M431.4,1188.6L432.3,1263.1L433.2,1183.9L434.1,1266.2L435.0,1187.9L435.9,1260.6L436.8,1194.9L437.7,1260.3L438.6,1198.1" fill="none" stroke="#0000ff" stroke-width="2.2" stroke-linejoin="round"/><path d="M439.0,1271.1L439.9,1296.5L440.8,1270.7L441.7,1295.2L442.6,1268.4L443.5,1303.7L444.4,1271.2L445.3,1301.0L446.2,1270.3L447.1,1292.8L448.0,1259.8" fill="none" stroke="#0000ff" stroke-width="2.2" stroke-linejoin="round"/><path d="M480.0,1239.6L480.9,1292.4L481.8,1234.5L482.7,1294.7L483.6,1242.0L484.5,1297.9L485.4,1242.7L486.3,1289.2L487.2,1241.7L488.1,1290.6L489.0,1229.2L489.9,1290.1L490.8,1226.4L491.7,1296.7L492.6,1237.5L493.5,1286.3L494.4,1238.7L495.3,1284.0L496.2,1230.6L497.1,1287.1L498.0,1244.6L498.9,1294.7L499.8,1235.2L500.7,1281.9L501.6,1241.0L502.5,1282.7L503.4,1247.7L504.3,1291.6" fill="none" stroke="#0000ff" stroke-width="2.2" stroke-linejoin="round"/><path d="M181.5,1229.6L182.4,1273.9L183.3,1228.4L184.2,1276.3L185.1,1231.0L186.0,1278.8L186.9,1218.5L187.8,1268.1L188.7,1209.2L189.6,1275.2L190.5,1226.2L191.4,1260.5L192.3,1220.9L193.2,1268.5L194.1,1228.6L195.0,1259.5L195.9,1235.1L196.8,1271.2L197.7,1214.2L198.6,1266.6L199.5,1223.1L200.4,1268.3L201.3,1208.9L202.2,1277.8L203.1,1210.7L204.0,1261.5L204.9,1217.8L205.8,1261.0L206.7,1214.3L207.6,1264.6L208.5,1216.9L209.4,1273.2L210.3,1226.0L211.2,1261.9L212.1,1209.0L213.0,1271.0L213.9,1212.0L214.8,1267.4L215.7,1222.7L216.6,1265.6L217.5,1220.0L218.4,1268.2L219.3,1216.1L220.2,1262.2L221.1,1231.5L222.0,1277.7L222.9,1230.5L223.8,1263.4L224.7,1226.4L225.6,1271.4L226.5,1213.7L227.4,1262.9L228.3,1212.4L229.2,1262.2L230.1,1223.5L231.0,1275.5L231.9,1219.6L232.8,1265.8" fill="none" stroke="#0000ff" stroke-width="2.2" stroke-linejoin="round"/><path d="M263.4,1187.6L264.3,1226.9L265.2,1185.1L266.1,1221.7L267.0,1181.1L267.9,1221.2L268.8,1183.4L269.7,1230.3L270.6,1187.9L271.5,1230.2L272.4,1187.0L273.3,1220.2L274.2,1186.5L275.1,1221.3" fill="none" stroke="#0000ff" stroke-width="2.2" stroke-linejoin="round"/><path d="M287.0,1194.9L287.9,1231.7L288.8,1182.3L289.7,1233.6L290.6,1187.4L291.5,1239.9L292.4,1197.0L293.3,1237.3L294.2,1194.6L295.1,1233.1L296.0,1192.9L296.9,1231.4" fill="none" stroke="#0000ff" stroke-width="2.2" stroke-linejoin="round"/><path d="M345.7,864.2H348.3V1060.0H345.7ZM368.6,864.2H370.5V1030.0H368.6ZM375.0,864.2H376.8V1030.0H375.0ZM321.0,871.0H323.5V987.0H321.0ZM316.5,898.0H317.8V1012.0H316.5ZM401.6,864.2H403.5V917.0H401.6ZM408.6,949.0H410.0V1060.0H408.6ZM300.0,864.2H302.0V954.0H300.0Z" fill="#ff0000"/><path d="M363.0,864.2H364.3V1060.0H363.0ZM318.0,924.0H320.0V1020.0H318.0Z" fill="#ffffff"/><rect x="300" y="864.2" width="160" height="335.79999999999995" fill="#fff"/><path d="M308.7,1018.0H312.0V1090.0H308.7ZM312.0,1014.0H317.3V1090.0H312.0ZM320.0,990.0H326.7V1020.7H320.0ZM324.0,1012.7H326.7V1083.0H324.0ZM329.3,1014.0H332.7V1090.0H329.3ZM344.0,990.0H349.3V1090.0H344.0ZM354.0,1008.7H357.3V1050.0H354.0ZM356.0,1016.7H358.7V1090.0H356.0ZM372.0,1054.0H374.7V1090.0H372.0ZM377.3,1011.3H380.0V1090.0H377.3ZM408.0,990.0H413.3V1090.0H408.0ZM420.7,990.0H423.3V1090.0H420.7ZM426.0,999.3H428.7V1090.0H426.0ZM430.0,1014.0H432.0V1090.0H430.0ZM438.0,990.0H446.7V1090.0H438.0ZM302.0,1129.0H304.7V1200.0H302.0ZM309.3,1080.0H311.3V1128.0H309.3ZM312.7,1080.0H317.3V1099.0H312.7ZM324.0,1080.0H326.7V1083.0H324.0ZM330.7,1080.0H333.3V1133.0H330.7ZM332.0,1133.0H334.0V1200.0H332.0ZM335.3,1183.0H339.3V1200.0H335.3ZM337.3,1160.0H339.3V1200.0H337.3ZM344.0,1080.0H348.0V1107.0H344.0ZM350.0,1080.0H352.7V1200.0H350.0ZM357.3,1080.0H360.0V1089.0H357.3ZM362.0,1152.0H364.7V1200.0H362.0ZM377.3,1080.0H380.0V1200.0H377.3ZM380.7,1080.0H384.0V1111.0H380.7ZM407.3,1080.0H414.0V1200.0H407.3ZM420.7,1080.0H423.3V1200.0H420.7ZM426.0,1080.0H428.7V1200.0H426.0ZM430.0,1080.0H432.0V1200.0H430.0ZM438.0,1080.0H446.7V1200.0H438.0Z" fill="#ff0000"/><path d="M302.0,864.2H321.0V990.0H302.0ZM323.3,864.2H334.0V990.0H323.3ZM335.3,864.2H345.3V990.0H335.3ZM348.7,864.2H362.7V990.0H348.7ZM364.7,864.2H368.7V990.0H364.7ZM370.7,864.2H374.0V990.0H370.7ZM376.7,864.2H401.3V990.0H376.7ZM403.3,864.2H409.3V990.0H403.3ZM409.3,864.2H414.7V888.0H409.3ZM414.7,864.2H433.3V990.0H414.7ZM446.7,864.2H460.0V990.0H446.7ZM300.0,990.0H308.7V1068.7H300.0ZM300.0,1068.7H306.7V1090.0H300.0ZM308.7,990.0H312.0V1018.0H308.7ZM312.0,990.0H317.3V1014.0H312.0ZM329.3,990.0H332.7V1014.0H329.3ZM354.0,990.0H357.3V1008.0H354.0ZM413.3,990.0H417.3V1000.0H413.3ZM326.7,990.0H329.3V1036.7H326.7ZM332.7,990.0H344.0V1090.0H332.7ZM349.3,990.0H354.7V1075.3H349.3ZM357.3,990.0H362.7V1072.7H357.3ZM364.0,990.0H372.0V1090.0H364.0ZM372.0,990.0H374.7V1054.0H372.0ZM374.7,990.0H380.0V1031.3H374.7ZM380.0,990.0H389.3V1090.0H380.0ZM389.3,990.0H396.0V1000.7H389.3ZM396.0,990.0H399.3V1018.0H396.0ZM398.7,990.0H400.7V1090.0H398.7ZM402.7,1003.3H405.3V1090.0H402.7ZM405.3,990.0H408.0V1036.7H405.3ZM417.3,990.0H433.3V1016.7H417.3ZM418.0,990.0H420.7V1090.0H418.0ZM423.3,990.0H426.0V1090.0H423.3ZM446.7,990.0H460.0V1082.0H446.7ZM300.0,1080.0H305.3V1147.0H300.0ZM332.7,1080.0H339.3V1141.0H332.7ZM336.0,1141.0H338.7V1172.0H336.0ZM340.0,1080.0H342.7V1117.0H340.0ZM344.7,1133.0H351.3V1200.0H344.7ZM360.7,1080.0H365.3V1200.0H360.7ZM366.0,1080.0H372.0V1157.0H366.0ZM384.0,1080.0H389.3V1200.0H384.0ZM398.7,1080.0H400.7V1200.0H398.7ZM402.7,1080.0H404.7V1200.0H402.7ZM418.0,1080.0H421.3V1200.0H418.0ZM423.3,1080.0H426.0V1200.0H423.3ZM432.0,1180.0H437.3V1200.0H432.0ZM432.0,1080.0H433.3V1200.0H432.0ZM446.7,1080.0H448.0V1200.0H446.7ZM450.0,1080.0H455.3V1117.0H450.0Z" fill="#0000ff"/><path d="M316.7,897.0H318.0V990.0H316.7ZM320.0,872.0H323.3V990.0H320.0ZM301.3,864.2H302.7V953.0H301.3ZM342.0,961.0H344.0V990.0H342.0ZM345.3,864.2H348.7V990.0H345.3ZM368.0,864.2H370.7V990.0H368.0ZM374.0,864.2H376.7V990.0H374.0ZM401.3,864.2H403.3V917.0H401.3ZM409.3,888.0H414.7V990.0H409.3ZM432.0,864.2H434.0V990.0H432.0ZM438.0,864.2H446.7V990.0H438.0ZM338.7,990.0H340.0V1090.0H338.7ZM342.7,990.0H344.7V1067.0H342.7ZM368.7,990.0H370.0V1030.0H368.7ZM381.3,1051.3H384.0V1090.0H381.3Z" fill="#ff0000"/><path d="M318.0,924.0H320.0V990.0H318.0ZM300.0,864.2H301.3V919.0H300.0ZM334.2,867.0H335.2V990.0H334.2ZM362.7,867.0H364.7V990.0H362.7ZM393.3,953.0H396.0V990.0H393.3ZM401.3,917.0H403.3V990.0H401.3ZM334.0,990.0H335.3V1060.7H334.0ZM448.0,1047.3H450.0V1090.0H448.0Z" fill="#ffffff"/>
<line x1="168.50" y1="868.25" x2="168.50" y2="1402.90" stroke="#000" stroke-width="2.7" stroke-linecap="round" stroke-dasharray="0 8.202"/>
<line x1="191.42" y1="868.25" x2="191.42" y2="1402.90" stroke="#000" stroke-width="2.7" stroke-linecap="round" stroke-dasharray="0 8.202"/>
<line x1="214.35" y1="868.25" x2="214.35" y2="1402.90" stroke="#000" stroke-width="2.7" stroke-linecap="round" stroke-dasharray="0 8.202"/>
<line x1="237.27" y1="868.25" x2="237.27" y2="1402.90" stroke="#000" stroke-width="2.7" stroke-linecap="round" stroke-dasharray="0 8.202"/>
<line x1="260.19" y1="868.25" x2="260.19" y2="1402.90" stroke="#000" stroke-width="2.7" stroke-linecap="round" stroke-dasharray="0 8.202"/>
<line x1="283.11" y1="868.25" x2="283.11" y2="1402.90" stroke="#000" stroke-width="2.7" stroke-linecap="round" stroke-dasharray="0 8.202"/>
<line x1="306.04" y1="868.25" x2="306.04" y2="1402.90" stroke="#000" stroke-width="2.7" stroke-linecap="round" stroke-dasharray="0 8.202"/>
<line x1="328.96" y1="868.25" x2="328.96" y2="1402.90" stroke="#000" stroke-width="2.7" stroke-linecap="round" stroke-dasharray="0 8.202"/>
<line x1="351.88" y1="868.25" x2="351.88" y2="1402.90" stroke="#000" stroke-width="2.7" stroke-linecap="round" stroke-dasharray="0 8.202"/>
<line x1="374.81" y1="868.25" x2="374.81" y2="1402.90" stroke="#000" stroke-width="2.7" stroke-linecap="round" stroke-dasharray="0 8.202"/>
<line x1="397.73" y1="868.25" x2="397.73" y2="1402.90" stroke="#000" stroke-width="2.7" stroke-linecap="round" stroke-dasharray="0 8.202"/>
<line x1="420.65" y1="868.25" x2="420.65" y2="1402.90" stroke="#000" stroke-width="2.7" stroke-linecap="round" stroke-dasharray="0 8.202"/>
<line x1="443.57" y1="868.25" x2="443.57" y2="1402.90" stroke="#000" stroke-width="2.7" stroke-linecap="round" stroke-dasharray="0 8.202"/>
<line x1="466.50" y1="868.25" x2="466.50" y2="1402.90" stroke="#000" stroke-width="2.7" stroke-linecap="round" stroke-dasharray="0 8.202"/>
<line x1="489.42" y1="868.25" x2="489.42" y2="1402.90" stroke="#000" stroke-width="2.7" stroke-linecap="round" stroke-dasharray="0 8.202"/>
<line x1="512.34" y1="868.25" x2="512.34" y2="1402.90" stroke="#000" stroke-width="2.7" stroke-linecap="round" stroke-dasharray="0 8.202"/>
<line x1="535.26" y1="868.25" x2="535.26" y2="1402.90" stroke="#000" stroke-width="2.7" stroke-linecap="round" stroke-dasharray="0 8.202"/>
<line x1="557.50" y1="868.25" x2="557.50" y2="1402.90" stroke="#000" stroke-width="2.7" stroke-linecap="round" stroke-dasharray="0 8.202"/>
<text x="134.37" y="1414.30" font-size="36.5" fill="#262626" textLength="20.25" lengthAdjust="spacingAndGlyphs">0</text>
<text x="104.18" y="1324.80" font-size="36.5" fill="#262626" textLength="50.62" lengthAdjust="spacingAndGlyphs">0.5</text>
<text x="134.73" y="1235.30" font-size="36.5" fill="#262626" textLength="20.25" lengthAdjust="spacingAndGlyphs">1</text>
<text x="104.18" y="1145.80" font-size="36.5" fill="#262626" textLength="50.62" lengthAdjust="spacingAndGlyphs">1.5</text>
<text x="134.73" y="1056.30" font-size="36.5" fill="#262626" textLength="20.25" lengthAdjust="spacingAndGlyphs">2</text>
<text x="104.18" y="966.80" font-size="36.5" fill="#262626" textLength="50.62" lengthAdjust="spacingAndGlyphs">2.5</text>
<text x="134.55" y="877.30" font-size="36.5" fill="#262626" textLength="20.25" lengthAdjust="spacingAndGlyphs">3</text>
<text x="120.53" y="1445.70" font-size="36.5" fill="#262626" textLength="94.38" lengthAdjust="spacingAndGlyphs">07:00</text>
<text x="349.76" y="1445.70" font-size="36.5" fill="#262626" textLength="94.38" lengthAdjust="spacingAndGlyphs">07:10</text>
<text x="109.85" y="1491.70" font-size="38.4" fill="#262626" textLength="506.78" lengthAdjust="spacingAndGlyphs">UT, from 07:00 to 07:17 UT</text>
<text x="3.34" y="848.90" font-size="38.6" font-weight="bold" fill="#000" textLength="717.85" lengthAdjust="spacingAndGlyphs">20150126 070036 S4 red(150MHz)</text>
<text x="-1.68" y="0" transform="translate(84.10,1155.80) rotate(-90)" font-size="38.4" fill="#262626" textLength="45.76" lengthAdjust="spacingAndGlyphs">S4</text>
<line x1="697.5" y1="1312.90" x2="1087.5" y2="1312.90" stroke="#dcdcdc" stroke-width="1.6"/>
<line x1="697.5" y1="1223.40" x2="1087.5" y2="1223.40" stroke="#dcdcdc" stroke-width="1.6"/>
<line x1="697.5" y1="1133.90" x2="1087.5" y2="1133.90" stroke="#dcdcdc" stroke-width="1.6"/>
<line x1="697.5" y1="1044.40" x2="1087.5" y2="1044.40" stroke="#dcdcdc" stroke-width="1.6"/>
<line x1="697.5" y1="954.90" x2="1087.5" y2="954.90" stroke="#dcdcdc" stroke-width="1.6"/>
<line x1="926.91" y1="865.4" x2="926.91" y2="1402.4" stroke="#dcdcdc" stroke-width="1.6"/>
<path d="M697.5,865.4 H1087.5 V1402.4 H697.5 Z" fill="none" stroke="#262626" stroke-width="2.2"/>
<line x1="697.5" y1="1402.40" x2="703.5" y2="1402.40" stroke="#262626" stroke-width="2.2"/>
<line x1="1087.5" y1="1402.40" x2="1081.5" y2="1402.40" stroke="#262626" stroke-width="2.2"/>
<line x1="697.5" y1="1312.90" x2="703.5" y2="1312.90" stroke="#262626" stroke-width="2.2"/>
<line x1="1087.5" y1="1312.90" x2="1081.5" y2="1312.90" stroke="#262626" stroke-width="2.2"/>
<line x1="697.5" y1="1223.40" x2="703.5" y2="1223.40" stroke="#262626" stroke-width="2.2"/>
<line x1="1087.5" y1="1223.40" x2="1081.5" y2="1223.40" stroke="#262626" stroke-width="2.2"/>
<line x1="697.5" y1="1133.90" x2="703.5" y2="1133.90" stroke="#262626" stroke-width="2.2"/>
<line x1="1087.5" y1="1133.90" x2="1081.5" y2="1133.90" stroke="#262626" stroke-width="2.2"/>
<line x1="697.5" y1="1044.40" x2="703.5" y2="1044.40" stroke="#262626" stroke-width="2.2"/>
<line x1="1087.5" y1="1044.40" x2="1081.5" y2="1044.40" stroke="#262626" stroke-width="2.2"/>
<line x1="697.5" y1="954.90" x2="703.5" y2="954.90" stroke="#262626" stroke-width="2.2"/>
<line x1="1087.5" y1="954.90" x2="1081.5" y2="954.90" stroke="#262626" stroke-width="2.2"/>
<line x1="697.5" y1="865.40" x2="703.5" y2="865.40" stroke="#262626" stroke-width="2.2"/>
<line x1="1087.5" y1="865.40" x2="1081.5" y2="865.40" stroke="#262626" stroke-width="2.2"/>
<line x1="697.50" y1="1402.4" x2="697.50" y2="1395.9" stroke="#262626" stroke-width="2.2"/>
<line x1="697.50" y1="865.4" x2="697.50" y2="871.9" stroke="#262626" stroke-width="2.2"/>
<line x1="926.91" y1="1402.4" x2="926.91" y2="1395.9" stroke="#262626" stroke-width="2.2"/>
<line x1="926.91" y1="865.4" x2="926.91" y2="871.9" stroke="#262626" stroke-width="2.2"/>
<path d="M860.3,1403.6L860.3,1346.2L860.3,1302.0L862.9,1281.1L864.2,1256.4L865.8,1256.4L866.8,1289.0L868.9,1346.2L868.9,1403.6Z" fill="#ff0000"/><path d="M929.0,1403.6L929.0,1380.1L932.2,1380.1L932.2,1403.5L929.0,1403.5L929.0,1403.6Z" fill="#ff0000"/><path d="M710.6,1403.6L710.6,1289.0L711.9,1226.5L713.7,1226.5L714.5,1249.9L715.8,1273.3L717.9,1281.1L719.7,1249.9L721.0,1247.3L722.3,1220.0L724.2,1221.3L724.9,1270.7L726.8,1239.5L728.8,1238.2L730.1,1265.5L732.0,1212.2L733.5,1213.5L734.6,1265.5L736.7,1251.2L738.0,1262.9L740.6,1210.9L742.4,1210.9L743.2,1257.7L745.8,1256.4L748.4,1249.9L750.2,1247.3L752.3,1251.2L754.9,1269.4L756.2,1208.3L757.5,1209.6L758.8,1221.3L760.6,1234.3L762.2,1255.1L764.0,1260.3L765.3,1309.8L767.4,1315.0L769.2,1286.3L771.0,1287.7L772.1,1252.5L773.6,1253.8L774.4,1281.1L776.2,1281.1L777.8,1312.4L778.8,1321.5L780.4,1338.4L782.2,1312.4L784.0,1315.0L786.1,1295.5L788.2,1275.9L789.2,1273.3L791.8,1230.4L793.4,1235.6L795.0,1322.8L797.0,1291.6L798.6,1289.0L800.4,1218.7L801.7,1223.9L803.0,1317.6L804.9,1338.4L806.4,1342.3L808.2,1307.2L809.5,1304.6L812.1,1285.0L813.4,1299.4L815.3,1302.0L817.3,1291.6L820.0,1274.6L822.6,1273.3L824.6,1262.9L826.5,1262.9L828.3,1330.6L830.4,1318.9L832.4,1322.8L834.3,1230.4L835.6,1231.7L836.4,1335.8L839.5,1338.4L842.1,1343.6L844.7,1343.6L847.3,1317.6L849.1,1343.6L850.7,1321.5L852.5,1328.0L854.3,1350.1L856.4,1341.0L858.5,1351.4L861.6,1343.6L864.2,1312.4L865.5,1309.8L867.3,1346.2L869.4,1348.8L872.0,1359.2L874.1,1291.6L875.9,1291.6L878.5,1286.3L879.8,1286.3L881.1,1361.8L882.9,1350.1L884.5,1326.7L886.3,1356.6L888.2,1320.2L889.7,1247.3L891.5,1222.6L892.8,1272.0L894.9,1304.6L896.7,1321.5L898.6,1315.0L900.7,1315.0L900.7,1403.6Z" fill="#0000ff" stroke="#0000ff" stroke-width="1.2" stroke-linejoin="round"/><path d="M890.0,1403.6L890.0,1222.6L892.1,1222.6L893.1,1270.7L894.7,1299.4L895.7,1322.8L897.8,1316.3L899.9,1322.8L901.7,1328.0L903.0,1346.2L905.1,1356.6L907.7,1354.0L909.5,1291.6L911.3,1291.6L912.9,1346.2L914.7,1346.2L916.0,1287.7L917.6,1287.7L918.6,1338.4L919.9,1307.2L921.8,1309.8L923.3,1328.0L925.1,1351.4L927.0,1354.0L928.0,1052.1L929.6,1050.8L931.1,1033.8L933.2,1033.8L933.7,1322.8L935.6,1331.9L937.4,1331.9L939.5,1333.2L941.5,1350.1L943.4,1354.0L945.2,1330.6L947.3,1329.3L949.4,1351.4L951.2,1354.0L953.0,1321.5L955.1,1316.3L957.2,1356.6L959.0,1331.9L960.8,1260.3L962.9,1257.7L965.0,1244.7L968.1,1238.2L970.7,1234.3L972.8,1230.4L974.6,1213.5L976.4,1213.5L978.0,1257.7L978.5,1337.1L980.6,1341.0L982.4,1348.8L984.2,1341.0L986.8,1322.8L988.4,1322.8L990.2,1359.2L992.0,1322.8L994.1,1322.8L996.2,1351.4L998.0,1354.0L999.9,1355.3L1001.9,1360.5L1004.0,1338.4L1006.6,1330.6L1008.4,1268.1L1010.3,1268.1L1012.3,1278.5L1015.0,1279.8L1016.3,1208.3L1018.1,1197.8L1020.2,1195.2L1021.5,1244.7L1024.1,1244.7L1025.4,1260.3L1026.7,1238.2L1028.5,1239.5L1030.1,1262.9L1031.9,1302.0L1033.2,1346.2L1035.3,1351.4L1037.1,1361.8L1039.7,1354.0L1042.3,1346.2L1044.9,1338.4L1048.8,1338.4L1050.9,1322.8L1052.7,1322.8L1054.5,1343.6L1056.6,1348.8L1058.7,1333.2L1060.5,1335.8L1062.3,1359.2L1064.9,1334.5L1068.3,1338.4L1070.9,1329.3L1072.2,1329.3L1074.3,1348.8L1076.9,1352.7L1078.7,1341.0L1081.3,1343.6L1083.9,1343.6L1085.8,1344.9L1087.3,1343.6L1088.9,1343.6L1088.9,1403.6Z" fill="#0000ff" stroke="#0000ff" stroke-width="1.2" stroke-linejoin="round"/>
<line x1="697.50" y1="868.25" x2="697.50" y2="1402.90" stroke="#000" stroke-width="2.7" stroke-linecap="round" stroke-dasharray="0 8.202"/>
<line x1="720.44" y1="868.25" x2="720.44" y2="1402.90" stroke="#000" stroke-width="2.7" stroke-linecap="round" stroke-dasharray="0 8.202"/>
<line x1="743.38" y1="868.25" x2="743.38" y2="1402.90" stroke="#000" stroke-width="2.7" stroke-linecap="round" stroke-dasharray="0 8.202"/>
<line x1="766.32" y1="868.25" x2="766.32" y2="1402.90" stroke="#000" stroke-width="2.7" stroke-linecap="round" stroke-dasharray="0 8.202"/>
<line x1="789.26" y1="868.25" x2="789.26" y2="1402.90" stroke="#000" stroke-width="2.7" stroke-linecap="round" stroke-dasharray="0 8.202"/>
<line x1="812.21" y1="868.25" x2="812.21" y2="1402.90" stroke="#000" stroke-width="2.7" stroke-linecap="round" stroke-dasharray="0 8.202"/>
<line x1="835.15" y1="868.25" x2="835.15" y2="1402.90" stroke="#000" stroke-width="2.7" stroke-linecap="round" stroke-dasharray="0 8.202"/>
<line x1="858.09" y1="868.25" x2="858.09" y2="1402.90" stroke="#000" stroke-width="2.7" stroke-linecap="round" stroke-dasharray="0 8.202"/>
<line x1="881.03" y1="868.25" x2="881.03" y2="1402.90" stroke="#000" stroke-width="2.7" stroke-linecap="round" stroke-dasharray="0 8.202"/>
<line x1="903.97" y1="868.25" x2="903.97" y2="1402.90" stroke="#000" stroke-width="2.7" stroke-linecap="round" stroke-dasharray="0 8.202"/>
<line x1="926.91" y1="868.25" x2="926.91" y2="1402.90" stroke="#000" stroke-width="2.7" stroke-linecap="round" stroke-dasharray="0 8.202"/>
<line x1="949.85" y1="868.25" x2="949.85" y2="1402.90" stroke="#000" stroke-width="2.7" stroke-linecap="round" stroke-dasharray="0 8.202"/>
<line x1="972.79" y1="868.25" x2="972.79" y2="1402.90" stroke="#000" stroke-width="2.7" stroke-linecap="round" stroke-dasharray="0 8.202"/>
<line x1="995.74" y1="868.25" x2="995.74" y2="1402.90" stroke="#000" stroke-width="2.7" stroke-linecap="round" stroke-dasharray="0 8.202"/>
<line x1="1018.68" y1="868.25" x2="1018.68" y2="1402.90" stroke="#000" stroke-width="2.7" stroke-linecap="round" stroke-dasharray="0 8.202"/>
<line x1="1041.62" y1="868.25" x2="1041.62" y2="1402.90" stroke="#000" stroke-width="2.7" stroke-linecap="round" stroke-dasharray="0 8.202"/>
<line x1="1064.56" y1="868.25" x2="1064.56" y2="1402.90" stroke="#000" stroke-width="2.7" stroke-linecap="round" stroke-dasharray="0 8.202"/>
<line x1="1087.50" y1="868.25" x2="1087.50" y2="1402.90" stroke="#000" stroke-width="2.7" stroke-linecap="round" stroke-dasharray="0 8.202"/>
<text x="663.37" y="1414.30" font-size="36.5" fill="#262626" textLength="20.25" lengthAdjust="spacingAndGlyphs">0</text>
<text x="633.18" y="1324.80" font-size="36.5" fill="#262626" textLength="50.62" lengthAdjust="spacingAndGlyphs">0.5</text>
<text x="663.73" y="1235.30" font-size="36.5" fill="#262626" textLength="20.25" lengthAdjust="spacingAndGlyphs">1</text>
<text x="633.18" y="1145.80" font-size="36.5" fill="#262626" textLength="50.62" lengthAdjust="spacingAndGlyphs">1.5</text>
<text x="663.73" y="1056.30" font-size="36.5" fill="#262626" textLength="20.25" lengthAdjust="spacingAndGlyphs">2</text>
<text x="633.18" y="966.80" font-size="36.5" fill="#262626" textLength="50.62" lengthAdjust="spacingAndGlyphs">2.5</text>
<text x="663.55" y="877.30" font-size="36.5" fill="#262626" textLength="20.25" lengthAdjust="spacingAndGlyphs">3</text>
<text x="649.53" y="1445.70" font-size="36.5" fill="#262626" textLength="94.38" lengthAdjust="spacingAndGlyphs">07:00</text>
<text x="878.94" y="1445.70" font-size="36.5" fill="#262626" textLength="94.38" lengthAdjust="spacingAndGlyphs">07:10</text>
<text x="638.85" y="1491.70" font-size="38.4" fill="#262626" textLength="506.78" lengthAdjust="spacingAndGlyphs">UT, from 07:00 to 07:17 UT</text>
<text x="512.44" y="848.90" font-size="38.6" font-weight="bold" fill="#000" textLength="763.27" lengthAdjust="spacingAndGlyphs">20150126 070036 Amp red(150MHz)</text>
<text x="0.00" y="0" transform="translate(613.90,1176.70) rotate(-90)" font-size="38.4" fill="#262626" textLength="83.98" lengthAdjust="spacingAndGlyphs">Amp</text></svg></body></html>
